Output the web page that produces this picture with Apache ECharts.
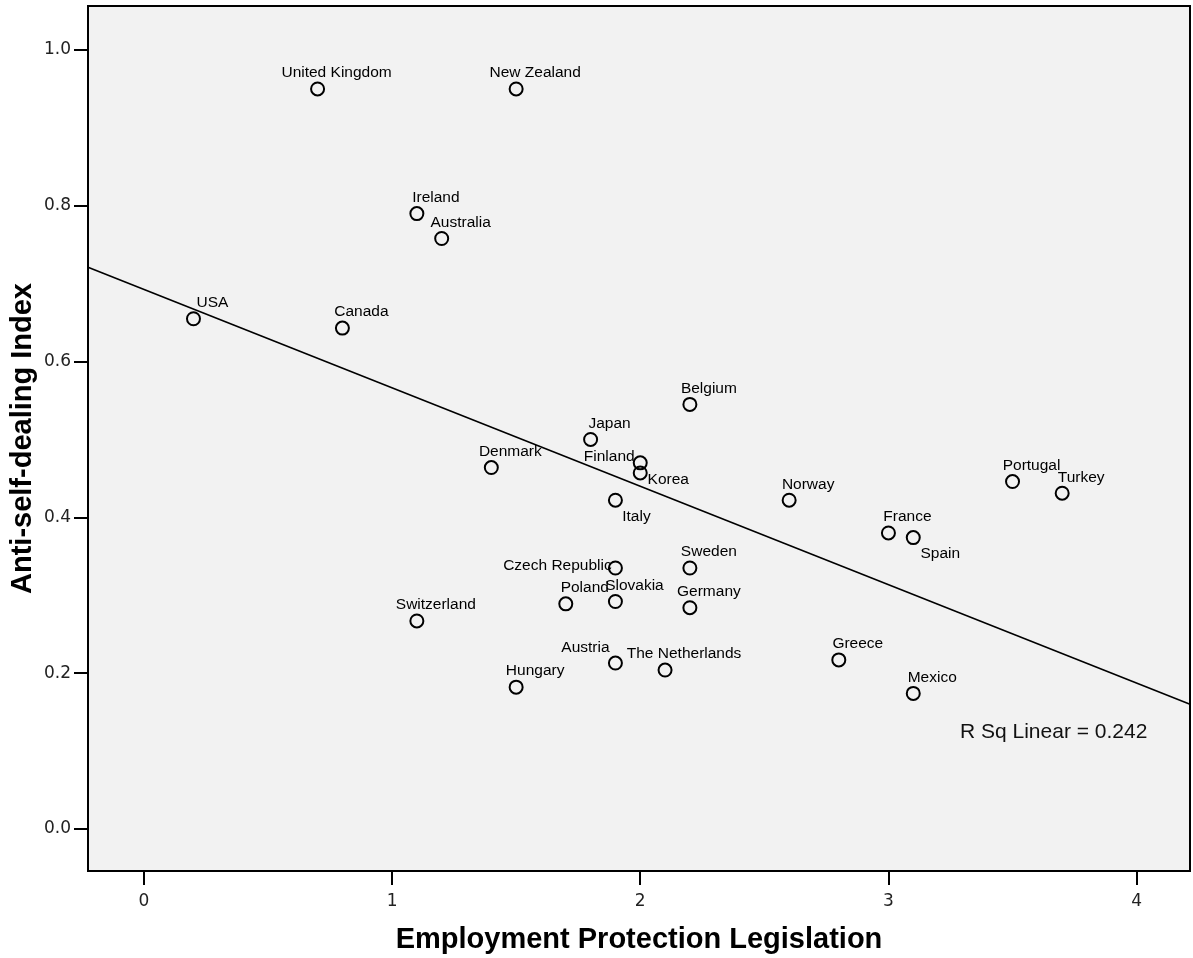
<!DOCTYPE html>
<html>
<head>
<meta charset="utf-8">
<script src="https://cdn.jsdelivr.net/npm/echarts@6/dist/echarts.min.js"></script>
<style>
  html, body { margin: 0; padding: 0; background: #fff; }
  #chart { width: 1193px; height: 958px; }
</style>
</head>
<body>
<div id="chart"></div>
<script>
  // countries, EPL (x) and anti-self-dealing index (y)
  let countries = ['USA', 'United Kingdom', 'New Zealand', 'Ireland', 'Australia', 'Canada',
    'Belgium', 'Japan', 'Finland', 'Korea', 'Denmark', 'Italy', 'Norway', 'France', 'Spain',
    'Portugal', 'Turkey', 'Czech Republic', 'Sweden', 'Poland', 'Slovakia', 'Germany',
    'Switzerland', 'Austria', 'The Netherlands', 'Hungary', 'Greece', 'Mexico'];
  let eplValues = [0.2, 0.7, 1.5, 1.1, 1.2, 0.8,
    2.2, 1.8, 2.0, 2.0, 1.4, 1.9, 2.6, 3.0, 3.1,
    3.5, 3.7, 1.9, 2.2, 1.7, 1.9, 2.2,
    1.1, 1.9, 2.1, 1.5, 2.8, 3.1];
  let asdValues = [0.655, 0.95, 0.95, 0.79, 0.758, 0.643,
    0.545, 0.5, 0.47, 0.457, 0.464, 0.422, 0.422, 0.38, 0.374,
    0.446, 0.431, 0.335, 0.335, 0.289, 0.292, 0.284,
    0.267, 0.213, 0.204, 0.182, 0.217, 0.174];
  // fit line end points, as drawn
  let fitX = [-0.225, 4.215];
  let fitY = [0.721, 0.160];
  let xTicks = [0, 1, 2, 3, 4];
  let yTicks = [0.0, 0.2, 0.4, 0.6, 0.8, 1.0];
  let rSqText = 'R Sq Linear = 0.242';

  // label offsets (from point centre) that differ from the usual up-right spot
  let labelOffsets = {
    'Finland': [-31, -6],
    'Korea': [28, 7],
    'Italy': [21, 16],
    'Spain': [27, 16],
    'Czech Republic': [-58, -2],
    'Austria': [-30, -15]
  };

  let chart = echarts.init(document.getElementById('chart'));

  let points = countries.map(function (name, i) {
    return { name: name, value: [eplValues[i], asdValues[i]] };
  });

  let option = {
    backgroundColor: '#ffffff',
    animation: false,
    grid: {
      left: 88,
      right: 3,
      top: 6,
      bottom: 87,
      containLabel: false,
      outerBoundsMode: 'none',
      show: true,
      backgroundColor: '#f2f2f2',
      borderColor: '#000',
      borderWidth: 2
    },
    xAxis: {
      type: 'value',
      min: -0.225,
      max: 4.215,
      name: 'Employment Protection Legislation',
      nameLocation: 'middle',
      nameGap: 54,
      nameMoveOverlap: false,
      nameTextStyle: { fontFamily: 'Liberation Sans, Arial', fontWeight: 'bold', fontSize: 29, color: '#000' },
      axisLine: { show: false, onZero: false },
      axisTick: { show: true, length: 14, lineStyle: { color: '#000', width: 2 }, customValues: xTicks },
      axisLabel: {
        fontFamily: 'DejaVu Sans', fontSize: 17, color: '#222', margin: 22,
        customValues: xTicks,
        formatter: function (v) { return String(v); }
      },
      splitLine: { show: false }
    },
    yAxis: {
      type: 'value',
      min: -0.054,
      max: 1.0565,
      name: 'Anti-self-dealing Index',
      nameLocation: 'middle',
      nameGap: 51,
      nameMoveOverlap: false,
      nameTextStyle: { fontFamily: 'Liberation Sans, Arial', fontWeight: 'bold', fontSize: 29, color: '#000' },
      axisLine: { show: false, onZero: false },
      axisTick: { show: true, length: 14, lineStyle: { color: '#000', width: 2 }, customValues: yTicks },
      axisLabel: {
        fontFamily: 'DejaVu Sans', fontSize: 17, color: '#222', margin: 17,
        customValues: yTicks,
        formatter: function (v) { return v.toFixed(1); }
      },
      splitLine: { show: false }
    },
    series: [
      {
        name: 'Fit',
        type: 'line',
        data: [[fitX[0], fitY[0]], [fitX[1], fitY[1]]],
        showSymbol: false,
        silent: true,
        lineStyle: { color: '#000', width: 1.6 },
        z: 2
      },
      {
        name: 'Countries',
        type: 'scatter',
        symbol: 'circle',
        symbolSize: 13,
        itemStyle: { color: 'rgba(0,0,0,0)', borderColor: '#000', borderWidth: 2, opacity: 1 },
        label: {
          show: true,
          position: 'inside',
          formatter: '{b}',
          fontFamily: 'Liberation Sans, Arial',
          fontSize: 15.5,
          color: '#000'
        },
        labelLayout: function (params) {
          let name = countries[params.dataIndex];
          let off = labelOffsets[name] || [19, -16];
          return { dx: off[0], dy: off[1], hideOverlap: false };
        },
        data: points,
        z: 3
      }
    ],
    graphic: [
      {
        type: 'text',
        left: 960,
        top: 722,
        style: {
          text: rSqText,
          font: '21px "Liberation Sans", Arial',
          fill: '#111'
        }
      }
    ]
  };

  chart.setOption(option);
</script>
</body>
</html>
